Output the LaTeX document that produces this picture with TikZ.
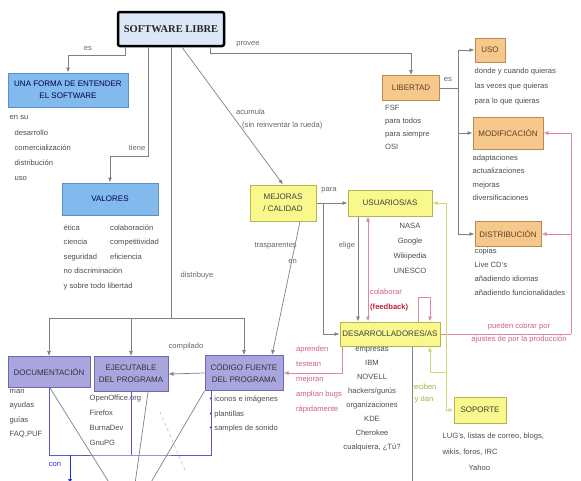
\documentclass[tikz,border=0pt]{standalone}
\usepackage{fontspec}
\setmainfont{Liberation Sans}
\newfontfamily\titlefont{Liberation Serif}
\usetikzlibrary{positioning,arrows.meta}

\definecolor{mapblue}{HTML}{82BAEE}
\definecolor{mapblueline}{HTML}{5C8FC6}
\definecolor{maporange}{HTML}{F6C88C}
\definecolor{maporangeline}{HTML}{B98A52}
\definecolor{mapyellow}{HTML}{F8F88C}
\definecolor{mapyellowline}{HTML}{B5B550}
\definecolor{mappurple}{HTML}{A9A5DE}
\definecolor{mappurpleline}{HTML}{6E68B0}
\definecolor{titlefill}{HTML}{DCE8F8}
\definecolor{pinkline}{HTML}{DA8A9A}
\definecolor{pinktext}{HTML}{D0607A}
\definecolor{redtext}{HTML}{C0203A}
\definecolor{yelline}{HTML}{D4D47A}
\definecolor{yeltext}{HTML}{A8B040}
\definecolor{conline}{HTML}{5A5AC8}
\definecolor{conarrow}{HTML}{2030E0}

\begin{document}
\begin{tikzpicture}[x=1pt,y=-1pt,>={Latex[length=5pt,width=4pt]},node distance=2pt,
    box/.style={draw,line width=1pt,inner sep=1pt,align=center,font=\fontsize{8}{12}\selectfont,text=black!75},
    titlebox/.style={box,fill=titlefill,draw=black,line width=2.5pt,rounded corners=2pt,font=\titlefont\bfseries\fontsize{10.5}{12}\selectfont,text=black!85},
    bluebox/.style={box,fill=mapblue,draw=mapblueline,text=blue!30!black},
    orangebox/.style={box,fill=maporange,draw=maporangeline,text=brown!50!black},
    yellowbox/.style={box,fill=mapyellow,draw=mapyellowline},
    purplebox/.style={box,fill=mappurple,draw=mappurpleline,text=black!80},
    list/.style={inner sep=0pt,align=left,text=black!70,font=\fontsize{7.6}{14.5}\selectfont},
    lbl/.style={inner sep=0pt,align=center,text=black!60,font=\fontsize{7.6}{13}\selectfont},
    link/.style={draw=black!50,line width=0.7pt},
    pinklink/.style={draw=pinkline,line width=0.7pt},
    yellink/.style={draw=yelline,line width=0.7pt},
    conlink/.style={draw=conline,line width=0.8pt}]
  \useasboundingbox (0,0) rectangle (581,480);

  % conceptos
  \node[titlebox,minimum width=106pt,minimum height=34pt] (libre) at (171,29) {SOFTWARE LIBRE};
  \node[bluebox,minimum width=120pt,minimum height=34pt] (forma) at (68,90) {UNA FORMA DE ENTENDER\\EL SOFTWARE};
  \node[bluebox,minimum width=96pt,minimum height=32pt] (valores) at (110,199) {VALORES};
  \node[orangebox,minimum width=57pt,minimum height=25pt] (libertad) at (411,88) {LIBERTAD};
  \node[orangebox,minimum width=30pt,minimum height=24pt] (uso) at (490,50) {USO};
  \node[orangebox,minimum width=70pt,minimum height=32pt] (modif) at (508,133) {MODIFICACIÓN};
  \node[orangebox,minimum width=66pt,minimum height=25pt] (distrib) at (508,234) {DISTRIBUCIÓN};
  \node[yellowbox,minimum width=66pt,minimum height=36pt] (mejoras) at (283,203) {MEJORAS\\/ CALIDAD};
  \node[yellowbox,minimum width=84pt,minimum height=26pt] (usuarios) at (390,203) {USUARIOS/AS};
  \node[yellowbox,minimum width=100pt,minimum height=24pt] (desarr) at (390,334) {DESARROLLADORES/AS};
  \node[purplebox,minimum width=78pt,minimum height=35pt] (codigo) at (244,373) {CÓDIGO FUENTE\\DEL PROGRAMA};
  \node[purplebox,minimum width=74pt,minimum height=35pt] (ejec) at (131,374) {EJECUTABLE\\DEL PROGRAMA};
  \node[purplebox,minimum width=82pt,minimum height=31pt] (docu) at (49,372) {DOCUMENTACIÓN};
  \node[yellowbox,minimum width=52pt,minimum height=26pt] (soporte) at (480,410) {SOPORTE};

  % ejemplos bajo cada concepto
  \node[list,below right=8pt and 2pt of forma.south west,font=\fontsize{7.6}{15.3}\selectfont] (formaList)
    {en su\\\hspace*{5pt}desarrollo\\\hspace*{5pt}comercialización\\\hspace*{5pt}distribución\\\hspace*{5pt}uso};
  \node[list,below right=9pt and 2pt of valores.south west] (valList)
    {ética\\ciencia\\seguridad\\no discriminación\\y sobre todo libertad};
  \node[list,below=9pt of valores.south,anchor=north west] (valListB)
    {colaboración\\competitividad\\eficiencia};
  \node[list,below right=4pt and 3pt of libertad.south west,font=\fontsize{7.6}{13}\selectfont] (libList)
    {FSF\\para todos\\para siempre\\OSI};
  \node[list,below right=5pt and 0pt of uso.south west,font=\fontsize{7.6}{15}\selectfont] (usoList)
    {donde y cuando quieras\\las veces que quieras\\para lo que quieras};
  \node[list,below right=5pt and 0pt of modif.south west,font=\fontsize{7.6}{13.5}\selectfont] (modifList)
    {adaptaciones\\actualizaciones\\mejoras\\diversificaciones};
  \node[list,below right=1pt and 0pt of distrib.south west,font=\fontsize{7.6}{14}\selectfont] (distList)
    {copias\\Live CD's\\añadiendo idiomas\\añadiendo funcionalidades};
  \node[list,align=center,below=6pt of usuarios.south,xshift=20pt,font=\fontsize{7.6}{15}\selectfont] (usuList)
    {NASA\\Google\\Wikipedia\\UNESCO};
  \node[list,align=center,below=1pt of desarr.south,xshift=-18pt,font=\fontsize{7.6}{13.9}\selectfont] (desarrList)
    {empresas\\IBM\\NOVELL\\hackers/gurús\\organizaciones\\KDE\\Cherokee\\cualquiera, ¿Tú?};
  \node[list,below right=5pt and 5pt of codigo.south west] (codigoList)
    {\textbullet\ iconos e imágenes\\\textbullet\ plantillas\\\textbullet\ samples de sonido};
  \node[list,below right=3pt and -4pt of ejec.south west,font=\fontsize{7.6}{15}\selectfont] (ejecList)
    {OpenOffice.org\\Firefox\\BurnaDev\\GnuPG};
  \node[list,below right=1pt and 2pt of docu.south west] (docuList)
    {man\\ayudas\\guías\\FAQ,PUF};
  \node[list,below right=9pt and -11pt of soporte.south west,font=\fontsize{7.6}{16}\selectfont] (sopList)
    {LUG's, listas de correo, blogs,\\wikis, foros, IRC\\\hspace*{26pt}Yahoo};

  % frases de enlace
  \node[lbl] (esLbl) at (88,48) {es};
  \node[lbl] (tieneLbl) at (137,148) {tiene};
  \node[lbl] (proveeLbl) at (248,44) {provee};
  \node[lbl,align=left,anchor=north west] (acumulaLbl) at (236,109) {acumula\\\hspace*{6pt}(sin reinventar la rueda)};
  \node[lbl] (distribuyeLbl) at (197,276) {distribuye};
  \node[lbl] (esLibLbl) at (448,79) {es};
  \node[lbl] (paraLbl) at (329,190) {para};
  \node[lbl] (eligeLbl) at (347,246) {elige};
  \node[lbl,align=right,anchor=north east,font=\fontsize{7.6}{16}\selectfont] (trasLbl) at (297,242) {trasparentes\\en};
  \node[lbl] (compiladoLbl) at (186,347) {compilado};
  \node[lbl,align=left,anchor=west,font=\fontsize{7.6}{15}\selectfont] (colabLbl) at (370,300)
    {\textcolor{pinktext}{colaborar}\\\textcolor{redtext}{\bfseries(feedback)}};
  \node[lbl,align=left,anchor=north west,text=pinktext,font=\fontsize{7.6}{15}\selectfont] (aprendenLbl) at (296,346)
    {aprenden\\testean\\mejoran\\amplían bugs\\rápidamente};
  \node[lbl,text=pinktext] (cobrarLbl) at (519,333) {pueden cobrar por\\ajustes de por la producción};
  \node[lbl,text=yeltext,font=\fontsize{7.6}{12}\selectfont] (recibenLbl) at (424,394) {reciben\\y dan};
  \node[lbl,text=conarrow] (conLbl) at (55,464) {con};

  % SOFTWARE LIBRE
  \draw[link,->] ([xshift=-46pt]libre.south) -- ++(0,8) -| (forma.north);
  \draw[link,->] ([xshift=-23pt]libre.south) -- ++(0,109) -| (valores.north);
  \coordinate (bus) at (171,318);
  \draw[link] (libre.south) -- (bus);
  \draw[link,->] (bus) -| (docu.north);
  \draw[link,->] (bus) -| (ejec.north);
  \draw[link,->] (bus) -| (codigo.north);
  \draw[link,->] ([xshift=39pt]libre.south) -- ++(0,6) -| (libertad.north);
  \draw[link,->] ([xshift=11pt]libre.south) -- (mejoras.north);

  % LIBERTAD
  \coordinate (libBus) at (458,88);
  \draw[link] (libertad.east) -- (libBus);
  \draw[link,->] (libBus) |- (uso.west);
  \draw[link,->] (libBus) |- (modif.west);
  \draw[link,->] (libBus) |- (distrib.west);

  % MEJORAS, USUARIOS, DESARROLLADORES
  \draw[link,->] (mejoras.east) -- (usuarios.west);
  \draw[link,->] (mejoras.east) -- ++(7,0) |- (desarr.west);
  \draw[link,->] ([xshift=17pt]mejoras.south) -- ([xshift=28pt]codigo.north);
  \draw[link,->] ([xshift=-32pt]usuarios.south) -- ([xshift=-32pt]desarr.north);
  \draw[pinklink,<->] ([xshift=-22pt]desarr.north) -- ([xshift=-22pt]usuarios.south);
  \draw[pinklink,->] ([xshift=28pt]desarr.north) -- ++(0,-24) -| ([xshift=40pt]desarr.north);
  \draw[pinklink,->] ([xshift=-48pt]desarr.south) |- (codigo.east);
  \coordinate (cobro) at (571,334);
  \draw[pinklink] (desarr.east) -- (cobro);
  \draw[pinklink,->] (cobro) |- (modif.east);
  \draw[pinklink,->] (cobro) |- (distrib.east);
  \coordinate (bajoD) at (412,484);
  \draw[link] ([xshift=22pt]desarr.south) -- (bajoD);

  % SOPORTE
  \coordinate (apoyo) at (446,372);
  \draw[yellink,->] (apoyo) -| ([xshift=40pt]desarr.south);
  \draw[yellink,->] (apoyo) |- (usuarios.east);
  \draw[yellink,->] (apoyo) |- (soporte.west);

  % programa
  \draw[link,->] (codigo.west) -- (ejec.east);
  \coordinate (conBus) at (131,455);
  \draw[conlink] (docu.south) |- (conBus) -| ([xshift=-33pt]codigo.south);
  \draw[conlink] (ejec.south) -- (conBus);
  \coordinate (conEnd) at (70,484);
  \draw[conlink,draw=conarrow,->] (conEnd |- conBus) -- (conEnd);
  \coordinate (bajoA) at (110,484);
  \coordinate (bajoB) at (135,484);
  \coordinate (bajoC) at (150,484);
  \draw[link] ([xshift=1pt]docu.south) -- (bajoA);
  \draw[link] ([xshift=17pt]ejec.south) -- (bajoB);
  \draw[link] (codigo.south west) -- (bajoC);
  \coordinate (tenueA) at (160,412);
  \coordinate (tenueB) at (185,470);
  \draw[draw=black!25,dashed,line width=0.6pt] (tenueA) -- (tenueB);
\end{tikzpicture}
\end{document}
